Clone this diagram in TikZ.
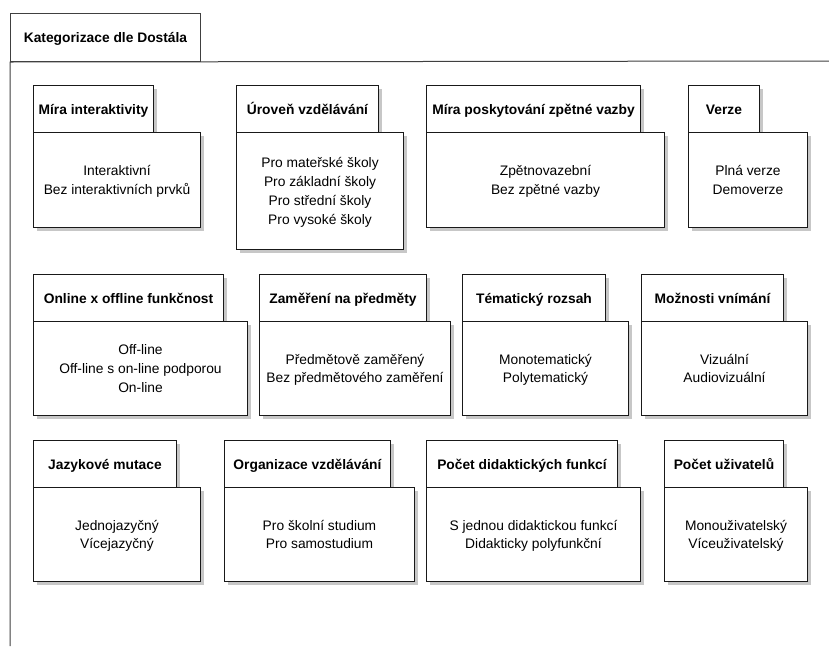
\documentclass[tikz,border=0pt]{standalone}
\usepackage{fontspec}
\setmainfont{Liberation Sans}
\usetikzlibrary{shadows}
\tikzset{
  x=1pt, y=-1pt,
  frameline/.style={draw=black!75, line width=1pt},
  frametab/.style={draw=black!75, fill=white, line width=1pt, inner sep=0pt, anchor=north west,
    font=\bfseries\fontsize{13.8}{18.7}\selectfont, text height=10pt, text depth=0pt},
  pkgtab/.style={draw=black!90, fill=white, line width=1pt, inner sep=0pt, anchor=north west,
    font=\bfseries\fontsize{13.8}{18.7}\selectfont, text height=10pt, text depth=0pt,
    drop shadow={shadow xshift=3pt, shadow yshift=-3pt, fill=black!22, opacity=1}},
  pkgbody/.style={draw=black!90, fill=white, line width=1pt, inner sep=0pt, anchor=north west,
    align=center, font=\fontsize{13.8}{18.7}\selectfont, text depth=0pt,
    drop shadow={shadow xshift=3pt, shadow yshift=-3pt, fill=black!22, opacity=1}},
}
\def\pkgparse#1,#2,#3,#4,#5,#6,#7\relax{%
  \def\pxa{#1}\def\pxt{#2}\def\pxb{#3}\def\pya{#4}\def\pyt{#5}\def\pyb{#6}\def\pnl{#7}}
% #1 name, #2 "x left, x tab right, x body right, y top, y tab bottom, y bottom, lines", #3 title, #4 body
\newcommand\pkgbox[4]{%
  \pkgparse#2\relax
  \pgfmathsetmacro\pkgtw{\pxt-\pxa}%
  \pgfmathsetmacro\pkgth{\pyt-\pya}%
  \pgfmathsetmacro\pkgbw{\pxb-\pxa}%
  \pgfmathsetmacro\pkgbh{\pyb-\pyt}%
  \pgfmathsetmacro\pkght{10+(\pnl-1)*18.7}%
  \node[pkgtab, minimum width=\pkgtw pt, minimum height=\pkgth pt] (#1t) at (\pxa,\pya) {#3};
  \node[pkgbody, minimum width=\pkgbw pt, minimum height=\pkgbh pt, text height=\pkght pt] (#1b) at (\pxa,\pyt) {#4};
}
\begin{document}
\begin{tikzpicture}
\useasboundingbox[fill=white] (0,0) rectangle (829,646);
% outer frame
\node[frametab, minimum width=190pt, minimum height=48pt] (frame) at (10,13) {Kategorizace dle Dostála};
\coordinate (frameR) at (829,61);
\coordinate (frameB) at (10,646);
\draw[frameline] (frameR) -- (frame.south west) -- (frameB);
% row 1
\pkgbox{a}{33,153,200,85,132,227,2}{Míra interaktivity}{Interaktivní\\Bez interaktivních prvků}
\pkgbox{b}{236,378,403,85,132,249,4}{Úroveň vzdělávání}{Pro mateřské školy\\Pro základní školy\\Pro střední školy\\Pro vysoké školy}
\pkgbox{c}{426,640,664,85,132,227,2}{Míra poskytování zpětné vazby}{Zpětnovazební\\Bez zpětné vazby}
\pkgbox{d}{688,759,807,85,132,227,2}{Verze}{Plná verze\\Demoverze}
% row 2
\pkgbox{e}{33,223,247,274,321,415,3}{Online x offline funkčnost}{Off-line\\Off-line s on-line podporou\\On-line}
\pkgbox{f}{259,426,450,274,321,415,2}{Zaměření na předměty}{Předmětově zaměřený\\Bez předmětového zaměření}
\pkgbox{g}{462,605,628,274,321,415,2}{Tématický rozsah}{Monotematický\\Polytematický}
\pkgbox{h}{641,783,807,274,321,415,2}{Možnosti vnímání}{Vizuální\\Audiovizuální}
% row 3
\pkgbox{i}{33,176,200,440,487,581,2}{Jazykové mutace}{Jednojazyčný\\Vícejazyčný}
\pkgbox{j}{224,390,414,440,487,581,2}{Organizace vzdělávání}{Pro školní studium\\Pro samostudium}
\pkgbox{k}{426,617,640,440,487,581,2}{Počet didaktických funkcí}{S jednou didaktickou funkcí\\Didakticky polyfunkční}
\pkgbox{l}{664,783,807,440,487,581,2}{Počet uživatelů}{Monouživatelský\\Víceuživatelský}
\end{tikzpicture}
\end{document}
